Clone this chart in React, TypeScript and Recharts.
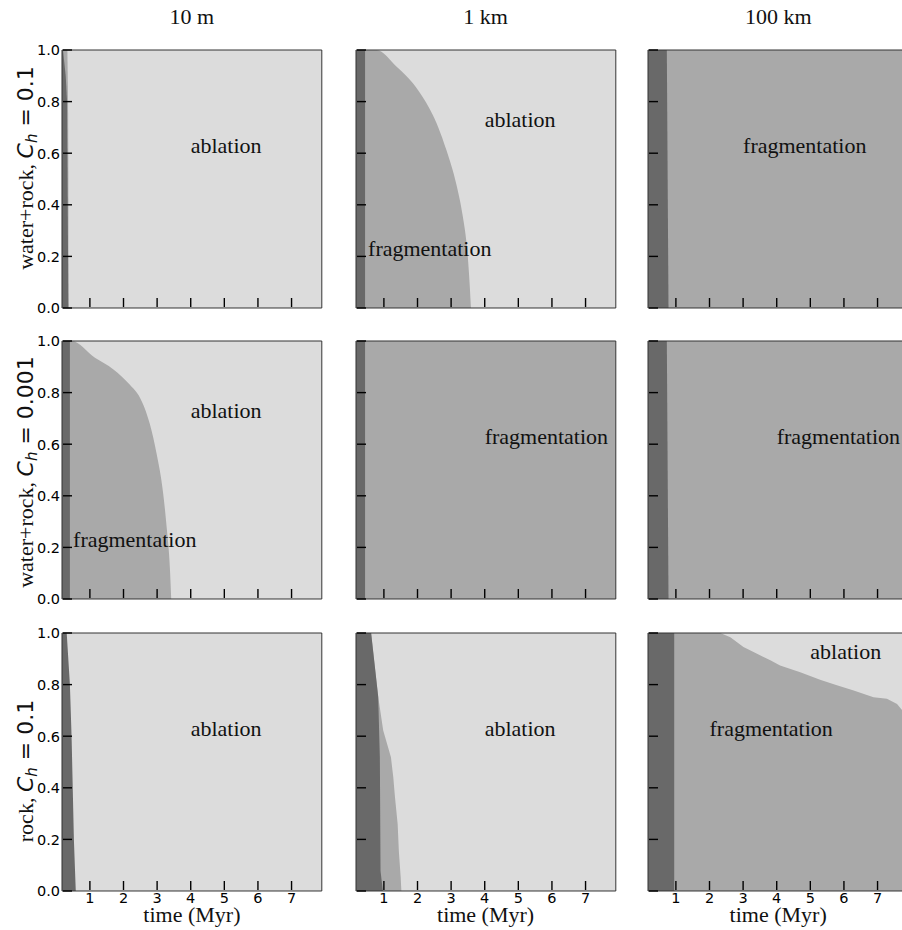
import React from "react";
import { AreaChart, Area, XAxis, YAxis, ReferenceArea, ReferenceDot } from "recharts";

// axis ranges and ticks
const T_MIN = 0.17;
const T_MAX = 7.9;
const xTicks = [1, 2, 3, 4, 5, 6, 7];
const yTicks = [0, 0.2, 0.4, 0.6, 0.8, 1.0];

const sizeTitles = ["10 m", "1 km", "100 km"];
const compositions = ["water+rock,", "water+rock,", "rock,"];
const chValues = ["0.1", "0.001", "0.1"];

// ablation fills the whole panel behind the other regimes
const ablT = [T_MIN, T_MAX];
const ablY = [1, 1];

// row 1: water+rock, Ch = 0.1
const darkT_11 = [0.17, 0.2, 0.28, 0.32, 0.36];
const darkY_11 = [1, 1, 0.9, 0.8, 0];
const fragT_11 = [0.17, 0.33, 0.35, 0.36, 0.365];
const fragY_11 = [1, 1, 0.8, 0.5, 0];

const darkT_12 = [0.17, 0.44, 0.44];
const darkY_12 = [1, 1, 0];
const fragT_12 = [0.17, 0.78, 1.38, 1.87, 2.21, 2.61, 2.86, 3.15, 3.35, 3.48, 3.55, 3.59];
const fragY_12 = [1, 1, 0.935, 0.87, 0.806, 0.703, 0.612, 0.483, 0.354, 0.225, 0.096, 0];

const darkT_13 = [0.17, 0.73, 0.78];
const darkY_13 = [1, 1, 0];
const fragT_13 = [0.17, 7.9];
const fragY_13 = [1, 1];

// row 2: water+rock, Ch = 0.001
const darkT_21 = [0.17, 0.405, 0.405];
const darkY_21 = [1, 1, 0];
const fragT_21 = [0.17, 0.46, 1.15, 1.7, 2.19, 2.49, 2.78, 2.99, 3.17, 3.29, 3.38, 3.42];
const fragY_21 = [1, 1, 0.935, 0.89, 0.83, 0.78, 0.68, 0.56, 0.42, 0.27, 0.12, 0];

const darkT_22 = [0.17, 0.44, 0.44];
const darkY_22 = [1, 1, 0];
const fragT_22 = [0.17, 7.9];
const fragY_22 = [1, 1];

const darkT_23 = [0.17, 0.73, 0.78];
const darkY_23 = [1, 1, 0];
const fragT_23 = [0.17, 7.9];
const fragY_23 = [1, 1];

// row 3: rock, Ch = 0.1
const darkT_31 = [0.17, 0.31, 0.405, 0.455, 0.524, 0.58];
const darkY_31 = [1, 1, 0.8, 0.6, 0.2, 0];
const fragT_31: number[] = [];
const fragY_31: number[] = [];

const darkT_32 = [0.17, 0.62, 0.83, 0.88, 0.9, 0.97];
const darkY_32 = [1, 1, 0.754, 0.518, 0.078, 0];
const fragT_32 = [0.17, 0.62, 0.83, 0.98, 1.21, 1.28, 1.33, 1.41, 1.445, 1.5, 1.52];
const fragY_32 = [1, 1, 0.754, 0.622, 0.518, 0.44, 0.363, 0.259, 0.155, 0.052, 0];

const darkT_33 = [0.17, 0.95, 0.95];
const darkY_33 = [1, 1, 0];
const fragT_33 = [0.17, 2.32, 2.62, 3.01, 3.31, 3.81, 4.1, 4.7, 5.29, 5.79, 6.29, 6.88, 7.28, 7.58, 7.74, 7.9];
const fragY_33 = [1, 1, 0.984, 0.946, 0.926, 0.894, 0.874, 0.848, 0.819, 0.797, 0.777, 0.751, 0.745, 0.725, 0.7, 0.67];

// region labels: [text, t, y]
const notes_11: [string, number, number][] = [["ablation", 4, 0.6]];
const notes_12: [string, number, number][] = [["ablation", 4, 0.7], ["fragmentation", 0.53, 0.2]];
const notes_13: [string, number, number][] = [["fragmentation", 3, 0.6]];
const notes_21: [string, number, number][] = [["ablation", 4, 0.7], ["fragmentation", 0.5, 0.2]];
const notes_22: [string, number, number][] = [["fragmentation", 4, 0.6]];
const notes_23: [string, number, number][] = [["fragmentation", 4, 0.6]];
const notes_31: [string, number, number][] = [["ablation", 4, 0.6]];
const notes_32: [string, number, number][] = [["ablation", 4, 0.6]];
const notes_33: [string, number, number][] = [["ablation", 5, 0.9], ["fragmentation", 2, 0.6]];

const panels = [
  [
    { dT: darkT_11, dY: darkY_11, fT: fragT_11, fY: fragY_11, notes: notes_11, curve: "linear" },
    { dT: darkT_12, dY: darkY_12, fT: fragT_12, fY: fragY_12, notes: notes_12, curve: "monotone" },
    { dT: darkT_13, dY: darkY_13, fT: fragT_13, fY: fragY_13, notes: notes_13, curve: "linear" },
  ],
  [
    { dT: darkT_21, dY: darkY_21, fT: fragT_21, fY: fragY_21, notes: notes_21, curve: "monotone" },
    { dT: darkT_22, dY: darkY_22, fT: fragT_22, fY: fragY_22, notes: notes_22, curve: "linear" },
    { dT: darkT_23, dY: darkY_23, fT: fragT_23, fY: fragY_23, notes: notes_23, curve: "linear" },
  ],
  [
    { dT: darkT_31, dY: darkY_31, fT: fragT_31, fY: fragY_31, notes: notes_31, curve: "linear" },
    { dT: darkT_32, dY: darkY_32, fT: fragT_32, fY: fragY_32, notes: notes_32, curve: "linear" },
    { dT: darkT_33, dY: darkY_33, fT: fragT_33, fY: fragY_33, notes: notes_33, curve: "linear" },
  ],
];

const DARK = "#696969";
const FRAG = "#a9a9a9";
const ABL = "#dcdcdc";
const SERIF = "'Liberation Serif', 'DejaVu Serif', serif";
const SANS = "'DejaVu Sans', sans-serif";

const PLOT_LEFT = [62, 355.7, 648.3];
const PLOT_TOP = [50, 341, 632.7];
const PLOT_W = 259.8;
const PLOT_H = 258;
// axes take 1px each (a zero-sized axis is not drawn), margins absorb the rest
const AX = 1;
const M = { top: 10, right: 10, bottom: 39, left: 44 };
const LABEL_CY = [168, 472, 771];

const toPoints = (t: number[], y: number[]) => t.map((v, i) => ({ t: v, y: y[i] }));

function XTick(props: any) {
  const { x, y, payload, showLabel } = props;
  const y0 = y - AX;
  return (
    <g>
      <line x1={x} x2={x} y1={y0} y2={y0 - 9} stroke="#000" strokeWidth={1.4} />
      {showLabel && (
        <text x={x} y={y0 + 13.5} textAnchor="middle" fontFamily={SANS} fontSize={14.5} fill="#000">
          {payload.value}
        </text>
      )}
    </g>
  );
}

function YTick(props: any) {
  const { x, y, payload, showLabel } = props;
  const x0 = x + AX;
  return (
    <g>
      <line x1={x0} x2={x0 + 9} y1={y} y2={y} stroke="#000" strokeWidth={1.4} />
      {showLabel && (
        <text x={x0 - 3} y={y + 5.5} textAnchor="end" fontFamily={SANS} fontSize={14.5} fill="#000">
          {Number(payload.value).toFixed(1)}
        </text>
      )}
    </g>
  );
}

function Panel({ row, col }: { row: number; col: number }) {
  const p = panels[row][col];
  const ml = M.left + AX;
  const mt = M.top;
  return (
    <div style={{ position: "absolute", left: PLOT_LEFT[col] - ml, top: PLOT_TOP[row] - mt }}>
      <AreaChart width={PLOT_W + ml + M.right} height={PLOT_H + mt + M.bottom + AX} margin={M}>
        <Area
          data={toPoints(ablT, ablY)}
          dataKey="y"
          type="linear"
          stroke="none"
          fill={ABL}
          fillOpacity={1}
          dot={false}
          activeDot={false}
          isAnimationActive={false}
        />
        {p.fT.length > 0 && (
          <Area
            data={toPoints(p.fT, p.fY)}
            dataKey="y"
            type={p.curve as any}
            stroke="none"
            fill={FRAG}
            fillOpacity={1}
            dot={false}
            activeDot={false}
            isAnimationActive={false}
          />
        )}
        <Area
          data={toPoints(p.dT, p.dY)}
          dataKey="y"
          type="linear"
          stroke="none"
          fill={DARK}
          fillOpacity={1}
          dot={false}
          activeDot={false}
          isAnimationActive={false}
        />
        <ReferenceArea x1={T_MIN} x2={T_MAX} y1={0} y2={1} fill="none" stroke="#333" strokeWidth={1} />
        {p.notes.map(([text, t, y]) => (
          <ReferenceDot
            key={text}
            x={t}
            y={y}
            r={0}
            shape={(s: any) => (
              <text x={s.cx} y={s.cy} fontFamily={SERIF} fontSize={22} fill="#111">
                {text}
              </text>
            )}
          />
        ))}
        <XAxis
          dataKey="t"
          type="number"
          domain={[T_MIN, T_MAX]}
          ticks={xTicks}
          interval={0}
          allowDataOverflow
          height={AX}
          axisLine={false}
          tickLine={false}
          tickSize={0}
          tickMargin={0}
          tick={(tp: any) => <XTick {...tp} showLabel={row === 2} />}
        />
        <YAxis
          type="number"
          domain={[0, 1]}
          ticks={yTicks}
          interval={0}
          allowDataOverflow
          width={AX}
          axisLine={false}
          tickLine={false}
          tickSize={0}
          tickMargin={0}
          tick={(tp: any) => <YTick {...tp} showLabel={col === 0} />}
        />
      </AreaChart>
    </div>
  );
}

export default function App() {
  return (
    <div style={{ position: "relative", width: 902, height: 930, overflow: "hidden", background: "#fff" }}>
      <style>{"body{margin:0}"}</style>
      {[0, 1, 2].map((r) => [0, 1, 2].map((c) => <Panel key={`${r}-${c}`} row={r} col={c} />))}
      <svg width={902} height={930} style={{ position: "absolute", left: 0, top: 0, pointerEvents: "none" }}>
        {sizeTitles.map((t, c) => (
          <text key={t} x={PLOT_LEFT[c] + PLOT_W / 2} y={24} textAnchor="middle" fontFamily={SERIF} fontSize={22} fill="#111">
            {t}
          </text>
        ))}
        {sizeTitles.map((t, c) => (
          <text key={`x${t}`} x={PLOT_LEFT[c] + PLOT_W / 2} y={922} textAnchor="middle" fontFamily={SERIF} fontSize={22} fill="#111">
            time (Myr)
          </text>
        ))}
        {compositions.map((comp, r) => (
          <text
            key={r}
            transform={`translate(33, ${LABEL_CY[r]}) rotate(-90)`}
            textAnchor="middle"
            fontSize={22}
            fill="#111"
          >
            <tspan fontFamily={SERIF}>{comp} </tspan>
            <tspan fontFamily={SANS} fontStyle="italic">C</tspan>
            <tspan fontFamily={SANS} fontStyle="italic" fontSize={15} dy={4}>h</tspan>
            <tspan fontFamily={SANS} dy={-4}>{` = ${chValues[r]}`}</tspan>
          </text>
        ))}
      </svg>
    </div>
  );
}
